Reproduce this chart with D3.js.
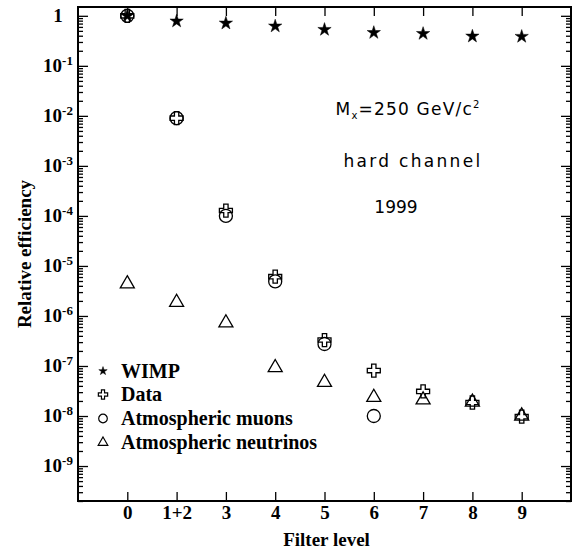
<!DOCTYPE html>
<html>
<head>
<meta charset="utf-8">
<script src="https://d3js.org/d3.v7.min.js"></script>
<style>
  body { margin: 0; background: #fff; }
  .serif { font-family: "Liberation Serif", "Times New Roman", serif; font-weight: bold; }
  .sans { font-family: "DejaVu Sans", sans-serif; }
</style>
</head>
<body>
<div id="eff-plot"></div>
<script>
// filter levels and relative efficiencies
const levels = ["0", "1+2", "3", "4", "5", "6", "7", "8", "9"];
const wimp = [1, 0.78, 0.71, 0.62, 0.53, 0.46, 0.44, 0.39, 0.385];
const dataEff = [1, 9e-3, 1.28e-4, 6.1e-6, 3.3e-7, 8.1e-8, 3.1e-8, 1.86e-8, 9.7e-9];
const muons = [1, 9e-3, 1.0e-4, 4.9e-6, 2.75e-7, 1.0e-8, null, null, null];
const neutrinos = [4.4e-6, 1.87e-6, 7.3e-7, 9.3e-8, 4.7e-8, 2.36e-8, 2.1e-8, 1.9e-8, 1.0e-8];
const decades = [0, -1, -2, -3, -4, -5, -6, -7, -8, -9];
const legendNames = ["WIMP", "Data", "Atmospheric muons", "Atmospheric neutrinos"];

const W = 574, H = 551;
const pLeft = 78, pRight = 571, pTop = 7, pBottom = 501;

const svg = d3.select("#eff-plot").append("svg")
  .attr("width", W).attr("height", H);

const x = d3.scaleLinear().domain([-1, 9]).range([pLeft, pRight]);
const y = d3.scaleLog().domain([2e-10, 1.5]).range([pBottom, pTop]);

const majors = decades.map(d => Math.pow(10, d));
let minors = [];
for (let d = -10; d <= 0; d++) {
  for (let m = 2; m <= 9; m++) {
    const v = m * Math.pow(10, d);
    if (v >= 2e-10 && v <= 1.5) minors.push(v);
  }
}
const idx = levels.map((l, i) => i);

// axes, ticks pointing inwards
function styleAxis(g) {
  g.select(".domain").remove();
  g.selectAll(".tick line").attr("stroke", "#000").attr("stroke-width", 1.3);
}
svg.append("g").attr("transform", `translate(${pLeft},0)`)
  .call(d3.axisLeft(y).tickValues(majors).tickSize(-10).tickFormat("")).call(styleAxis);
svg.append("g").attr("transform", `translate(${pLeft},0)`)
  .call(d3.axisLeft(y).tickValues(minors).tickSize(-5).tickFormat("")).call(styleAxis);
svg.append("g").attr("transform", `translate(${pRight},0)`)
  .call(d3.axisRight(y).tickValues(majors).tickSize(-10).tickFormat("")).call(styleAxis);
svg.append("g").attr("transform", `translate(${pRight},0)`)
  .call(d3.axisRight(y).tickValues(minors).tickSize(-5).tickFormat("")).call(styleAxis);
svg.append("g").attr("transform", `translate(0,${pTop})`)
  .call(d3.axisTop(x).tickValues(idx).tickSize(-9).tickFormat("")).call(styleAxis);

const xAxis = svg.append("g").attr("transform", `translate(0,${pBottom})`)
  .call(d3.axisBottom(x).tickValues(idx).tickSize(-9).tickPadding(5).tickFormat(i => levels[i]))
  .call(styleAxis);
xAxis.selectAll(".tick text").attr("class", "serif").attr("font-size", 19).attr("fill", "#000");

// frame
svg.append("rect")
  .attr("x", pLeft).attr("y", pTop)
  .attr("width", pRight - pLeft).attr("height", pBottom - pTop)
  .attr("fill", "none").attr("stroke", "#000").attr("stroke-width", 2);

// y tick labels 10^-n
const ylab = svg.selectAll(".ylab").data(decades).enter().append("text")
  .attr("class", "serif").attr("font-size", 19)
  .attr("text-anchor", "middle")
  .attr("x", 58).attr("y", d => y(Math.pow(10, d)) + 6);
ylab.each(function(d) {
  const t = d3.select(this);
  if (d === 0) { t.text("1"); return; }
  t.append("tspan").text("10");
  t.append("tspan").attr("font-size", 13).attr("dy", -7).text(d);
});

// axis titles
svg.append("text").attr("class", "serif").attr("font-size", 19)
  .attr("text-anchor", "middle")
  .attr("x", (pLeft + pRight) / 2 + 2).attr("y", 546)
  .text("Filter level");
svg.append("text").attr("class", "serif").attr("font-size", 19)
  .attr("text-anchor", "middle")
  .attr("transform", `translate(31,${(pTop + pBottom) / 2}) rotate(-90)`)
  .text("Relative efficiency");

// symbols
const sym = {
  star: d3.symbol().type(d3.symbolStar).size(55),
  cross: d3.symbol().type(d3.symbolCross).size(94),
  circle: d3.symbol().type(d3.symbolCircle).size(133),
  tri: d3.symbol().type(d3.symbolTriangle).size(85)
};
const symSmall = {
  star: d3.symbol().type(d3.symbolStar).size(22),
  cross: d3.symbol().type(d3.symbolCross).size(48),
  circle: d3.symbol().type(d3.symbolCircle).size(58),
  tri: d3.symbol().type(d3.symbolTriangle).size(40)
};

function drawSeries(vals, shape, filled) {
  svg.append("g").selectAll("path")
    .data(vals.map((v, i) => ({i, v})).filter(d => d.v != null))
    .enter().append("path")
    .attr("d", sym[shape])
    .attr("transform", d => `translate(${x(d.i)},${y(d.v)})`)
    .attr("fill", filled ? "#000" : "none")
    .attr("stroke", "#000")
    .attr("stroke-width", filled ? 0.5 : 1.3);
}
drawSeries(neutrinos, "tri", false);
drawSeries(muons, "circle", false);
drawSeries(dataEff, "cross", false);
drawSeries(wimp, "star", true);

// legend
const legShapes = ["star", "cross", "circle", "tri"];
const legY = [371, 394.5, 418.5, 442.5];
legendNames.forEach((name, k) => {
  svg.append("path").attr("d", symSmall[legShapes[k]])
    .attr("transform", `translate(103,${legY[k]})`)
    .attr("fill", k === 0 ? "#000" : "none")
    .attr("stroke", "#000").attr("stroke-width", k === 0 ? 0.5 : 1.2);
  svg.append("text").attr("class", "serif").attr("font-size", 20)
    .attr("x", 121).attr("y", legY[k] + 6.5).text(name);
});

// annotations
const ann = svg.append("text").attr("class", "sans").attr("font-size", 17)
  .attr("letter-spacing", 1.2)
  .attr("text-anchor", "middle").attr("x", 408).attr("y", 115);
ann.append("tspan").text("M");
ann.append("tspan").attr("font-size", 10).attr("dy", 4).text("x");
ann.append("tspan").attr("dy", -4).text("=250 GeV/c");
ann.append("tspan").attr("font-size", 10).attr("dy", -7).text("2");

svg.append("text").attr("class", "sans").attr("font-size", 17)
  .attr("letter-spacing", 2.3)
  .attr("text-anchor", "middle").attr("x", 413).attr("y", 167)
  .text("hard channel");
svg.append("text").attr("class", "sans").attr("font-size", 17)
  .attr("text-anchor", "middle").attr("x", 396).attr("y", 213)
  .text("1999");
</script>
</body>
</html>
